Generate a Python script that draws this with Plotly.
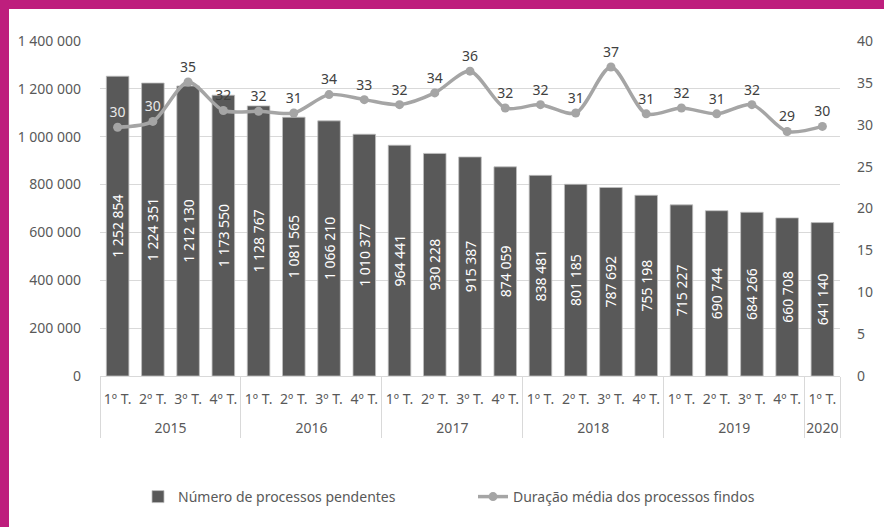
import plotly.graph_objects as go

years = ["2015"] * 4 + ["2016"] * 4 + ["2017"] * 4 + ["2018"] * 4 + ["2019"] * 4 + ["2020"]
quarters = ["1º T.", "2º T.", "3º T.", "4º T."] * 5 + ["1º T."]
pendentes = [1252854, 1224351, 1212130, 1173550, 1128767, 1081565, 1066210, 1010377,
             964441, 930228, 915387, 874059, 838481, 801185, 787692, 755198,
             715227, 690744, 684266, 660708, 641140]
duracao = [29.7, 30.4, 35.1, 31.7, 31.6, 31.4, 33.6, 33.0, 32.4, 33.8, 36.4,
           32.0, 32.4, 31.4, 36.9, 31.3, 32.0, 31.3, 32.4, 29.2, 29.8]
left_ticks = [0, 200000, 400000, 600000, 800000, 1000000, 1200000, 1400000]
right_ticks = [0, 5, 10, 15, 20, 25, 30, 35, 40]

FONT = "Noto Sans"
TXT = "#595959"

# year row pushed down one line, as in the reference
year_labels = ["<br>" + y for y in years]
x_cats = [year_labels, quarters]

line_text_colors = ["#E8E8E8", "#E8E8E8"] + ["#404040"] * (len(duracao) - 2)

fig = go.Figure()
fig.add_trace(go.Bar(
    x=x_cats, y=pendentes,
    name="Número de processos pendentes",
    marker=dict(color="#595959", line=dict(color="#BFBFBF", width=0.8)),
    texttemplate="%{y:,}", textposition="inside", insidetextanchor="middle",
    textangle=-90, constraintext="none",
    textfont=dict(color="white", size=14, family=FONT),
    hoverinfo="skip",
))
fig.add_trace(go.Scatter(
    x=x_cats, y=duracao, yaxis="y2",
    name="Duração média dos processos findos",
    mode="lines+markers+text",
    line=dict(color="#A5A5A5", width=3.5, shape="spline", smoothing=0.8),
    marker=dict(color="#A5A5A5", size=9),
    texttemplate="%{y:.0f}", textposition="top center",
    textfont=dict(color=line_text_colors, size=14, family=FONT),
    hoverinfo="skip",
))

W, H = 884, 527
L, R, T, B = 100, 44, 41, 151
pw, ph = W - L - R, H - T - B


def px_x(p):
    return (p - L) / pw


def px_y(p):
    return (H - B - p) / ph


MAG = "#BE1E7D"
shapes = [
    dict(type="rect", xref="paper", yref="paper", x0=px_x(0), x1=px_x(9),
         y0=px_y(H), y1=px_y(0), fillcolor=MAG, line=dict(width=0), layer="above"),
    dict(type="rect", xref="paper", yref="paper", x0=px_x(0), x1=px_x(W),
         y0=px_y(9), y1=px_y(0), fillcolor=MAG, line=dict(width=0), layer="above"),
]

fig.update_layout(
    width=W, height=H,
    margin=dict(l=L, r=R, t=T, b=B, autoexpand=False),
    paper_bgcolor="white", plot_bgcolor="white",
    separators=", ",
    font=dict(family=FONT, size=14, color=TXT),
    bargap=0.36,
    showlegend=True,
    legend=dict(orientation="h", x=px_x(138), xanchor="left", y=px_y(497), yanchor="middle",
                font=dict(size=14, color=TXT, family=FONT), itemwidth=30,
                entrywidth=290, entrywidthmode="pixels"),
    xaxis=dict(type="multicategory", range=[-0.5, len(pendentes) - 0.5],
               showline=True, linecolor="#D9D9D9", linewidth=1,
               dividercolor="#D9D9D9", dividerwidth=1, showdividers=True,
               tickangle=0, ticklabelstandoff=10,
               tickfont=dict(size=14, color=TXT), ticks="", automargin=False),
    yaxis=dict(range=[0, 1400000], tickvals=left_ticks, tickformat=",d",
               showgrid=True, gridcolor="#D9D9D9", gridwidth=1, zeroline=False,
               showline=False, ticks="", ticklabelstandoff=18,
               tickfont=dict(size=14, color=TXT), automargin=False),
    yaxis2=dict(range=[0, 40], tickvals=right_ticks, overlaying="y", side="right",
                showgrid=False, zeroline=False, showline=False, ticks="",
                ticklabelstandoff=16,
                tickfont=dict(size=14, color=TXT), automargin=False),
    shapes=shapes,
)

fig.write_html("out.html", config={"displayModeBar": False},
               post_script="document.body.style.margin='0';")
